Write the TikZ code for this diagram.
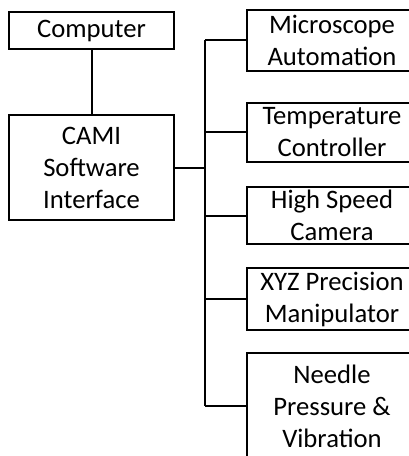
\documentclass[tikz,border=0pt]{standalone}
\usepackage{fontspec}
\setmainfont{Carlito}
\usepackage{tikz}
\usetikzlibrary{positioning}

\begin{document}
\begin{tikzpicture}[x=0.75pt,y=-0.75pt,line width=1.5pt,
    every node/.style={draw=black,line width=1.5pt,align=center,inner sep=1pt,
      font=\fontsize{20}{24}\selectfont},
    leftbox/.style={minimum width=123.75pt},
    rightbox/.style={minimum width=140pt}]
  \useasboundingbox (0,0) rectangle (409,456);
  \clip (0,0) rectangle (409,456);

  %left nodes
  \node [leftbox,minimum height=27.75pt] (comp) at (91.5,30.5) {Computer};
  \node [leftbox,minimum height=78.75pt] (cami) at (91.5,167.5) {CAMI\\Software\\Interface};

  %right nodes
  \node [rightbox,minimum height=45.75pt] (micro) at (340,40.5) {\hspace*{-12pt}Microscope\\\hspace*{-12pt}Automation};
  \node [rightbox,minimum height=44.25pt] (temp) at (340,132.5) {\hspace*{-12pt}Temperature\\\hspace*{-12pt}Controller};
  \node [rightbox,minimum height=42.75pt] (speed) at (340,215.5) {\hspace*{-12pt}High Speed\\\hspace*{-12pt}Camera};
  \node [rightbox,minimum height=46.5pt] (xyz) at (340,299) {\hspace*{-12pt}XYZ Precision\\\hspace*{-12pt}Manipulator};
  \node [rightbox,minimum height=80.25pt] (needle) at (340,406) {\hspace*{-12pt}Needle\\\hspace*{-12pt}Pressure \&\\\hspace*{-12pt}Vibration};

  %edges
  \coordinate (bus) at (205,0);
  \draw (comp) -- (cami);
  \draw (cami.east) -- (cami.east -| bus);
  \draw (bus |- micro.west) -- (bus |- needle.west);
  \foreach \n in {micro,temp,speed,xyz,needle}
    \draw (bus |- \n.west) -- (\n.west);
\end{tikzpicture}
\end{document}
